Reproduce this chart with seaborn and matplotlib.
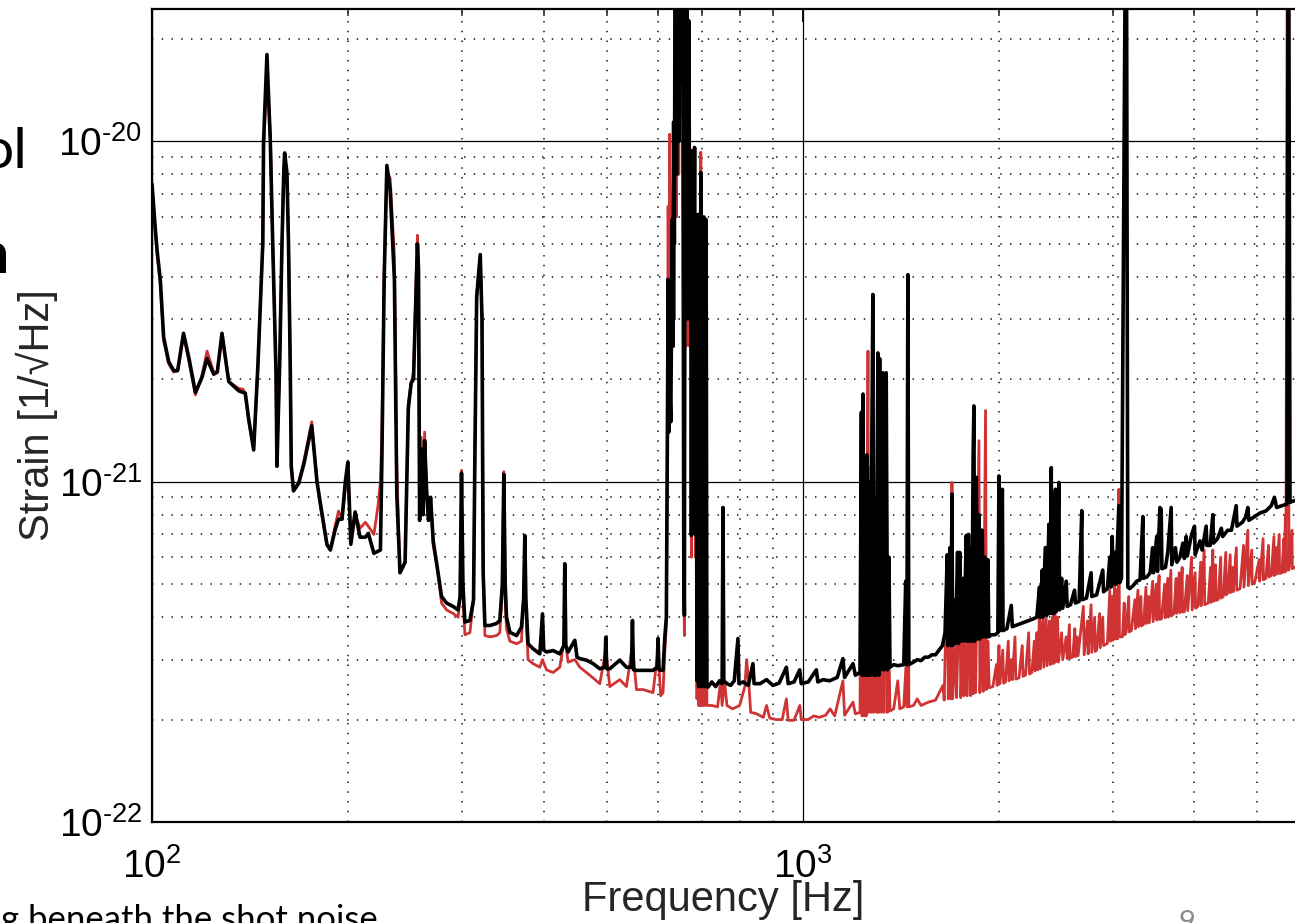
import matplotlib
matplotlib.use('Agg')
import matplotlib.pyplot as plt
import seaborn as sns
from matplotlib.ticker import LogLocator, NullFormatter, FixedFormatter

# strain spectrum (Hz, 1/sqrt(Hz))
freq_black = [
    100, 101.2, 101.8, 103, 104.2, 106.1, 108, 109.5, 111.8, 114, 116.6, 119.3, 121.5, 124.4, 126,
    128.1, 131.2, 135.9, 138, 139.1, 140.8, 143.3, 145.5, 146.7, 148, 148.4, 150.2, 152, 153.3,
    155.1, 155.6, 157.1, 158.4, 159.4, 159.9, 161.2, 162.1, 163.1, 163.7, 165, 168.1, 171.2, 176,
    179.3, 181.6, 185.7, 188, 191.1, 193.5, 195.9, 198.2, 200, 202.1, 205.2, 208.8, 212.8, 215,
    219.3, 224.4, 225.6, 226.4, 227.4, 229.6, 232.3, 235.8, 237.8, 240.5, 244.9, 247.7, 250.2,
    252.3, 255.8, 256.8, 257.8, 259.3, 261, 262.4, 264.2, 266, 268, 270.5, 274.4, 278.6, 283.6,
    290.3, 295.4, 297.5, 299, 300.5, 302.6, 308, 312, 313.5, 315.5, 319.5, 321.5, 322.8, 324.8,
    330.6, 338.4, 342.4, 345.5, 347.3, 349, 350.6, 354.8, 363.3, 369.7, 372.5, 374.1, 375.5, 378.4,
    385.2, 394.5, 398.2, 400, 403.9, 413.5, 423.4, 429.5, 430.9, 432.5, 436, 446.5, 450, 454.5,
    465.3, 476.4, 487.8, 496.5, 498.2, 500, 505.3, 523.5, 536, 545.5, 547.5, 549.5, 555.3, 568.5,
    588.8, 597.5, 599.4, 601.5, 610.1, 614, 617.3,
    619.5, 621.2, 623, 624.7, 627, 630.6, 632, 633.4, 635, 637, 640, 642, 645, 648, 651, 654,
    656.5, 658, 660, 662, 664, 666, 668.7, 670.5, 672.6, 674.5, 676.7, 679, 682.1, 684, 686, 688,
    690.2, 692, 694, 695.5, 697.3, 699, 701, 703, 705, 707, 709.8, 711, 712.5, 715.2,
    725, 735, 745, 752, 754.3, 756.5, 765, 775, 785, 795.3, 798, 810, 825, 838.6, 842, 860, 880,
    900, 920, 944, 950, 970, 989.5, 995, 1020, 1049.5, 1055, 1075, 1100, 1130, 1153, 1160, 1195,
    1205, 1225, 1231, 1234, 1238, 1242, 1246, 1250, 1255, 1260, 1266, 1270, 1282, 1286, 1290,
    1296, 1305, 1309, 1313, 1318, 1324, 1328, 1333, 1338, 1344, 1350, 1357, 1362, 1380, 1400,
    1430, 1440, 1446, 1451, 1456, 1480, 1500, 1520, 1540, 1560, 1580, 1600, 1620,
    1640, 1655, 1668, 1672, 1684, 1690, 1696, 1700, 1712, 1718, 1730, 1736, 1743, 1750, 1764,
    1770, 1784, 1790, 1798, 1805, 1814, 1820, 1828, 1833, 1838, 1844, 1849, 1855, 1866, 1872,
    1880, 1888, 1895, 1905, 1912, 1926, 1932, 1950, 1975, 1995, 2003, 2010, 2027, 2032, 2060,
    2092, 2100, 2140, 2180, 2220, 2260, 2290, 2312, 2318, 2335, 2340, 2360, 2367, 2373, 2390,
    2400, 2410, 2416, 2425, 2432, 2446, 2452, 2476, 2482, 2500, 2510, 2541, 2550, 2580, 2617,
    2625, 2660, 2685, 2690, 2730, 2775, 2782, 2830, 2892, 2900, 2940, 2965, 2975, 2990, 3000,
    3015, 3030, 3061, 3070, 3090, 3142, 3160, 3180, 3220, 3260, 3300, 3333, 3340, 3380, 3420,
    3450, 3460, 3500, 3510, 3540, 3556, 3565, 3610, 3640, 3684, 3692, 3740, 3760, 3800, 3840,
    3860, 3885, 3900, 3960, 4001, 4010, 4080, 4110, 4170, 4180, 4230, 4269, 4280, 4340, 4400,
    4420, 4500, 4560, 4637, 4650, 4740, 4800, 4832, 4850, 4950, 5050, 5150, 5250, 5309, 5350,
    5450, 5550, 5579, 5610, 5700, 6000,
]
strain_black = [
    7.5e-21, 5.5e-21, 4.8e-21, 3.9e-21, 2.66e-21, 2.25e-21, 2.12e-21, 2.12e-21, 2.73e-21, 2.3e-21,
    1.83e-21, 2.02e-21, 2.3e-21, 2.07e-21, 2.1e-21, 2.73e-21, 1.97e-21, 1.85e-21, 1.83e-21,
    1.82e-21, 1.53e-21, 1.24e-21, 2.22e-21, 3.31e-21, 5.0e-21, 1.0e-20, 1.8e-20, 1.0e-20, 5.0e-21,
    2.09e-21, 1.11e-21, 2.2e-21, 5.0e-21, 8.1e-21, 9.25e-21, 8.1e-21, 5.0e-21, 2.2e-21, 1.11e-21,
    9.4e-22, 9.9e-22, 1.13e-21, 1.46e-21, 1.0e-21, 8.55e-22, 6.55e-22, 6.3e-22, 7.2e-22, 7.76e-22,
    7.76e-22, 1.0e-21, 1.14e-21, 6.55e-22, 8.15e-22, 6.87e-22, 6.87e-22, 7.05e-22, 6.16e-22,
    6.3e-22, 1.17e-21, 2.0e-21, 3.92e-21, 8.5e-21, 7.18e-21, 3.92e-21, 9.2e-22, 5.4e-22, 5.8e-22,
    1.64e-21, 1.95e-21, 2.0e-21, 5.0e-21, 4.2e-21, 7.7e-22, 1.25e-21, 8.0e-22, 1.32e-21, 9.5e-22,
    7.7e-22, 9.0e-22, 6.7e-22, 5.6e-22, 4.6e-22, 4.4e-22, 4.3e-22, 4.2e-22, 4.6e-22, 1.06e-21,
    5.0e-22, 3.87e-22, 3.91e-22, 4.5e-22, 1.2e-21, 3.5e-21, 4.65e-21, 3.0e-21, 5.4e-22, 3.78e-22,
    3.78e-22, 3.83e-22, 3.91e-22, 5.0e-22, 1.05e-21, 5.0e-22, 4.0e-22, 3.61e-22, 3.53e-22,
    3.74e-22, 4.5e-22, 6.95e-22, 4.5e-22, 3.34e-22, 3.23e-22, 3.12e-22, 4.09e-22, 3.2e-22,
    3.16e-22, 3.19e-22, 3.12e-22, 3.3e-22, 5.74e-22, 3.3e-22, 3.16e-22, 3.42e-22, 3.05e-22,
    3.02e-22, 2.99e-22, 2.92e-22, 2.82e-22, 2.85e-22, 3.49e-22, 2.82e-22, 2.82e-22, 2.99e-22,
    2.85e-22, 2.85e-22, 3.91e-22, 2.8e-22, 2.79e-22, 2.79e-22, 2.79e-22, 2.85e-22, 3.46e-22,
    2.8e-22, 2.79e-22, 3.5e-22, 4.0e-22,
    1.3e-21, 3.93e-21, 1.4e-21, 2.0e-21, 1.5e-21, 5.9e-21, 2.5e-21, 1.14e-20, 5.0e-21, 5.0e-20,
    8.0e-21, 5.0e-20, 1.0e-20, 5.0e-20, 1.5e-20, 5.0e-20, 6.0e-22, 4.05e-22, 5.0e-20, 3.0e-21,
    5.0e-20, 4.0e-21, 2.26e-20, 3.0e-21, 9.4e-21, 6.95e-22, 9.0e-21, 1.5e-21, 9.6e-21, 7.0e-22,
    3.0e-21, 2.6e-22, 6.1e-21, 2.5e-22, 4.0e-21, 2.6e-22, 8.1e-21, 2.5e-22, 5.0e-21, 2.6e-22,
    6.0e-21, 2.5e-22, 5.9e-21, 3.0e-21, 2.5e-22, 2.49e-22,
    2.58e-22, 2.5e-22, 2.6e-22, 2.55e-22, 8.4e-22, 2.6e-22, 2.55e-22, 2.52e-22, 2.6e-22, 3.46e-22,
    2.55e-22, 2.58e-22, 2.52e-22, 2.92e-22, 2.55e-22, 2.55e-22, 2.62e-22, 2.52e-22, 2.56e-22,
    2.85e-22, 2.55e-22, 2.58e-22, 2.8e-22, 2.55e-22, 2.58e-22, 2.8e-22, 2.58e-22, 2.62e-22,
    2.6e-22, 2.66e-22, 3.02e-22, 2.66e-22, 2.92e-22, 2.7e-22, 2.75e-22, 1.6e-21, 2.7e-22, 1.81e-21,
    2.7e-22, 1.0e-21, 2.7e-22, 1.2e-21, 2.7e-22, 1.0e-21, 2.7e-22, 3.55e-21, 2.7e-22, 8.9e-22,
    2.7e-22, 2.39e-21, 2.7e-22, 2.3e-21, 2.8e-22, 1.2e-21, 2.09e-21, 2.8e-22, 2.0e-21, 2.09e-21,
    2.8e-22, 6.0e-22, 2.85e-22, 2.9e-22, 2.88e-22, 2.9e-22, 5.1e-22, 2.9e-22, 4.06e-21, 2.9e-22,
    2.95e-22, 3.0e-22, 2.98e-22, 3.05e-22, 3.05e-22, 3.1e-22, 3.1e-22, 3.2e-22,
    3.3e-22, 3.6e-22, 6.1e-22, 3.3e-22, 6.4e-22, 3.3e-22, 9.2e-22, 3.3e-22, 4.5e-22, 3.35e-22,
    6.2e-22, 3.35e-22, 6.2e-22, 3.4e-22, 5.2e-22, 3.4e-22, 6.95e-22, 3.4e-22, 7.0e-22, 3.4e-22,
    6.4e-22, 3.4e-22, 1.2e-21, 1.67e-21, 3.4e-22, 1.0e-21, 1.03e-21, 3.45e-22, 8.0e-22, 3.45e-22,
    7.2e-22, 7.2e-22, 3.5e-22, 6.0e-22, 3.5e-22, 5.9e-22, 3.5e-22, 3.55e-22, 3.55e-22, 3.6e-22,
    1.04e-21, 3.65e-22, 9.5e-22, 3.65e-22, 3.7e-22, 4.33e-22, 3.75e-22, 3.8e-22, 3.85e-22, 3.9e-22,
    3.95e-22, 4.0e-22, 4.9e-22, 4.0e-22, 5.5e-22, 4.0e-22, 6.4e-22, 6.4e-22, 4.05e-22, 7.5e-22,
    4.1e-22, 1.1e-21, 4.1e-22, 8.0e-22, 4.1e-22, 9.5e-22, 4.15e-22, 9.95e-22, 4.2e-22, 5.2e-22,
    4.25e-22, 5.1e-22, 4.3e-22, 4.35e-22, 4.8e-22, 4.4e-22, 4.45e-22, 8.22e-22, 4.5e-22, 4.55e-22,
    5.4e-22, 4.6e-22, 4.65e-22, 5.5e-22, 4.75e-22, 4.85e-22, 6.0e-22, 4.9e-22, 6.9e-22, 5.0e-22,
    6.2e-22, 5.0e-22, 8.5e-22, 5.05e-22, 5.2e-22, 1.0e-19, 4.9e-22, 4.85e-22, 4.95e-22, 5.1e-22,
    5.15e-22, 7.9e-22, 5.2e-22, 5.25e-22, 5.4e-22, 6.4e-22, 5.4e-22, 6.9e-22, 5.45e-22, 8.4e-22,
    8.3e-22, 5.55e-22, 5.6e-22, 6.2e-22, 8.4e-22, 5.7e-22, 6.4e-22, 5.8e-22, 6.0e-22, 6.6e-22,
    5.95e-22, 6.9e-22, 6.05e-22, 7.0e-22, 7.4e-22, 6.1e-22, 6.7e-22, 6.3e-22, 7.4e-22, 6.5e-22,
    6.5e-22, 8.0e-22, 6.6e-22, 6.8e-22, 7.3e-22, 6.9e-22, 7.2e-22, 7.2e-22, 8.5e-22, 7.4e-22,
    7.6e-22, 7.9e-22, 8.4e-22, 7.7e-22, 7.9e-22, 8.1e-22, 8.2e-22, 8.5e-22, 9.0e-22, 8.4e-22,
    8.5e-22, 8.6e-22, 1.0e-19, 8.7e-22, 8.8e-22, 9.0e-22,
]

freq_red_low = [
    100, 101.2, 101.8, 103, 104.2, 106.1, 108, 109.5, 111.8, 114, 116.6, 119.3, 121.5, 124.4, 126,
    128.1, 131.2, 135.9, 138, 139.1, 140.8, 143.3, 145.5, 146.7, 148, 148.4, 150.2, 152, 153.3,
    155.1, 155.6, 157.1, 158.4, 159.4, 159.9, 161.2, 162.1, 163.1, 163.7, 165, 168.1, 171.2, 176,
    179.3, 181.6, 185.7, 188, 191.1, 193.5, 195.9, 198.2, 200, 202.1, 205.2, 208.8, 212.8, 215,
    219.3, 222.5, 224.4, 225.6, 226.4, 227.4, 229.6, 232.3, 235.8, 237.8, 240.5, 244.9, 247.7,
    250.2, 252.3, 255.8, 256.8, 257.8, 259.3, 261, 262.4, 264.2, 266, 268, 270.5, 274.4, 278.6,
    283.6, 290.3, 295.4, 297.5, 299, 300.5, 302.6, 308, 312, 313.5, 315.5, 319.5, 321.5, 322.8,
    324.8, 330.6, 338.4, 342.4, 345.5, 347.3, 349, 350.6, 354.8, 363.3, 369.7, 372.5, 374.1, 375.5,
    378.4, 385.2, 394.5, 398.2, 403.9, 413.5, 423.4, 430.9, 436, 446.5, 454.5, 465.3, 476.4,
    487.8, 498.2, 505.3, 523.5, 536, 547.5, 555.3, 568.5, 588.8, 599.4, 605, 610.1, 614, 617.3,
    619.5, 621.2, 623, 624.7, 627, 630.6, 633.4, 635, 637, 640, 642, 645, 648, 651, 654, 656.5,
    658, 660, 662, 664, 666, 668.7, 670.5, 672.6, 674.5, 676.7, 679, 682.1, 684, 686, 688, 690.2,
    692, 694, 695.5, 697.3, 699, 701, 703, 705, 707, 709.8, 712.5, 715.2,
    725, 740, 748, 752, 758, 765, 780, 800, 815, 820, 826, 832, 850, 870, 880, 890, 910, 930, 944,
    950, 970, 990, 995, 1020, 1040, 1060, 1085, 1102, 1120, 1153, 1160, 1195, 1205, 1225, 1231,
    1234, 1238, 1242, 1248, 1252, 1260, 1264, 1270, 1275, 1282, 1286, 1296, 1300, 1305, 1309,
    1318, 1322, 1330, 1335, 1344, 1350, 1357, 1362, 1380, 1400, 1410, 1430, 1441, 1447, 1451,
    1456, 1480, 1500, 1520, 1560, 1600, 1643, 1650, 1668, 1674, 1684, 1690, 1696, 1700, 1718,
    1724, 1743, 1750, 1764, 1770, 1784, 1790, 1805, 1812, 1822, 1828, 1838, 1844, 1866, 1872,
    1888, 1895, 1910, 1916, 1926,
]
strain_red_low = [
    7.3e-21, 5.4e-21, 4.7e-21, 3.8e-21, 2.6e-21, 2.22e-21, 2.1e-21, 2.12e-21, 2.7e-21, 2.25e-21,
    1.8e-21, 2.05e-21, 2.42e-21, 2.1e-21, 2.1e-21, 2.7e-21, 1.97e-21, 1.88e-21, 1.87e-21,
    1.82e-21, 1.5e-21, 1.25e-21, 2.2e-21, 3.3e-21, 5.0e-21, 9.5e-21, 1.55e-20, 1.05e-20, 5.0e-21,
    2.0e-21, 1.15e-21, 2.2e-21, 5.0e-21, 8.0e-21, 9.0e-21, 8.0e-21, 5.0e-21, 2.2e-21, 1.1e-21,
    9.4e-22, 1.0e-21, 1.15e-21, 1.5e-21, 1.0e-21, 8.4e-22, 6.5e-22, 6.3e-22, 7.4e-22, 8.2e-22,
    7.8e-22, 9.5e-22, 1.05e-21, 7.0e-22, 8.0e-22, 7.3e-22, 7.6e-22, 7.4e-22, 7.0e-22, 8.5e-22,
    1.0e-21, 1.4e-21, 2.2e-21, 4.2e-21, 8.2e-21, 7.8e-21, 4.6e-21, 1.1e-21, 5.4e-22, 5.8e-22,
    1.7e-21, 1.95e-21, 2.1e-21, 5.3e-21, 4.5e-21, 7.7e-22, 1.35e-21, 8.0e-22, 1.4e-21, 9.5e-22,
    7.7e-22, 9.0e-22, 6.5e-22, 5.6e-22, 4.4e-22, 4.2e-22, 4.1e-22, 4.0e-22, 4.6e-22, 1.08e-21,
    4.6e-22, 3.55e-22, 3.6e-22, 4.5e-22, 1.2e-21, 3.5e-21, 4.65e-21, 3.0e-21, 5.8e-22, 3.53e-22,
    3.5e-22, 3.53e-22, 3.6e-22, 4.8e-22, 1.07e-21, 4.5e-22, 3.7e-22, 3.4e-22, 3.34e-22, 3.4e-22,
    4.7e-22, 6.5e-22, 4.2e-22, 3.0e-22, 2.92e-22, 2.85e-22, 3.0e-22, 2.8e-22, 2.75e-22, 2.85e-22,
    3.5e-22, 2.95e-22, 3.0e-22, 2.85e-22, 2.75e-22, 2.65e-22, 2.55e-22, 3.2e-22, 2.5e-22,
    2.62e-22, 2.5e-22, 3.3e-22, 2.45e-22, 2.45e-22, 2.4e-22, 3.2e-22, 2.35e-22, 2.4e-22, 3.2e-22,
    3.8e-22,
    1.6e-21, 6.45e-21, 2.0e-21, 1.05e-20, 3.0e-21, 5.0e-21, 9.0e-21, 3.0e-21, 5.0e-20, 6.0e-21,
    5.0e-20, 8.0e-21, 5.0e-20, 1.2e-20, 5.0e-20, 5.0e-22, 3.53e-22, 5.0e-20, 2.5e-21, 5.0e-20,
    3.5e-21, 1.8e-20, 2.5e-21, 8.0e-21, 6.0e-22, 9.4e-21, 1.2e-21, 9.3e-21, 6.0e-22, 2.5e-21,
    2.3e-22, 5.0e-21, 2.2e-22, 3.5e-21, 2.2e-22, 9.3e-21, 2.2e-22, 4.0e-21, 2.2e-22, 5.0e-21,
    2.2e-22, 4.5e-21, 2.2e-22, 2.2e-22,
    2.2e-22, 2.18e-22, 2.6e-22, 2.2e-22, 2.6e-22, 2.2e-22, 2.15e-22, 2.2e-22, 2.5e-22, 3.0e-22,
    2.6e-22, 2.1e-22, 2.08e-22, 2.03e-22, 2.2e-22, 2.02e-22, 2.0e-22, 2.0e-22, 2.3e-22, 1.99e-22,
    1.99e-22, 2.2e-22, 2.0e-22, 2.0e-22, 2.05e-22, 2.03e-22, 2.06e-22, 2.15e-22, 2.05e-22,
    2.6e-22, 2.06e-22, 2.25e-22, 2.08e-22, 2.1e-22, 1.4e-21, 2.05e-22, 1.6e-21, 2.05e-22,
    1.1e-21, 2.05e-22, 2.42e-21, 2.1e-22, 1.1e-21, 2.1e-22, 3.3e-21, 2.1e-22, 8.5e-22, 2.1e-22,
    2.3e-21, 2.1e-22, 2.0e-21, 2.1e-22, 2.05e-21, 2.1e-22, 2.0e-21, 2.1e-22, 3.2e-22, 2.12e-22,
    2.15e-22, 2.6e-22, 2.15e-22, 2.18e-22, 2.85e-22, 2.18e-22, 3.9e-21, 2.18e-22, 2.2e-22, 2.3e-22,
    2.2e-22, 2.25e-22, 2.28e-22, 2.52e-22, 2.28e-22, 6.1e-22, 2.3e-22, 3.3e-22, 2.3e-22, 9.95e-22,
    2.3e-22, 3.3e-22, 2.32e-22, 5.5e-22, 2.32e-22, 3.4e-22, 2.35e-22, 6.5e-22, 2.35e-22, 5.5e-22,
    2.35e-22, 7.0e-22, 2.38e-22, 3.6e-22, 2.4e-22, 1.32e-21, 2.4e-22, 4.0e-22, 2.42e-22, 1.62e-21,
    2.45e-22, 3.4e-22,
]

# squeezed trace above ~1.9 kHz: floor plus the comb of narrow lines
freq_red_high = [
    1935, 1960, 1985, 1990, 2003, 2010, 2030, 2036, 2050, 2070,
    2076, 2092, 2100, 2120, 2126, 2150, 2175, 2181, 2200, 2225,
    2231, 2250, 2270, 2276, 2290, 2298, 2312, 2320, 2340, 2348,
    2367, 2375, 2395, 2402, 2420, 2428, 2438, 2446, 2465, 2472,
    2500, 2510, 2541, 2550, 2570, 2576, 2600, 2620, 2626, 2640,
    2650, 2700, 2708, 2740, 2746, 2775, 2782, 2810, 2816, 2830,
    2860, 2866, 2892, 2900, 2940, 2965, 2972, 2990, 2998, 3015,
    3022, 3040, 3048, 3061, 3068, 3100, 3120, 3126, 3140, 3170,
    3176, 3200, 3240, 3246, 3275, 3282, 3310, 3316, 3340, 3370,
    3376, 3400, 3410, 3450, 3456, 3494, 3502, 3530, 3536, 3560,
    3600, 3606, 3640, 3648, 3680, 3686, 3720, 3750, 3756, 3790,
    3798, 3830, 3836, 3860, 3900, 3906, 3960, 3968, 4010, 4016,
    4050, 4090, 4096, 4140, 4148, 4200, 4235, 4241, 4269, 4277,
    4310, 4316, 4350, 4390, 4396, 4430, 4470, 4476, 4500, 4540,
    4546, 4580, 4588, 4640, 4646, 4700, 4760, 4766, 4832, 4840,
    4900, 4906, 4950, 5030, 5040, 5100, 5106, 5150, 5200, 5206,
    5250, 5300, 5306, 5340, 5350, 5400, 5406, 5450, 5490, 5496,
    5520, 5530, 5560, 5590, 5650, 5656, 5700, 6000,
]
strain_red_high = [
    2.48e-22, 2.5e-22, 2.9e-22, 2.52e-22, 3.3e-22, 2.55e-22, 3.2e-22, 2.56e-22, 2.58e-22, 3.4e-22,
    2.6e-22, 3.0e-22, 2.62e-22, 3.5e-22, 2.63e-22, 2.65e-22, 3.3e-22, 2.68e-22, 2.7e-22, 3.6e-22,
    2.72e-22, 2.75e-22, 3.4e-22, 2.78e-22, 3.6e-22, 2.8e-22, 4.2e-22, 2.82e-22, 4.0e-22, 2.85e-22,
    4.0e-22, 2.88e-22, 3.9e-22, 2.9e-22, 4.0e-22, 2.92e-22, 8.3e-22, 2.95e-22, 4.0e-22, 2.95e-22,
    3.6e-22, 3.0e-22, 3.5e-22, 3.02e-22, 3.8e-22, 3.03e-22, 3.05e-22, 3.7e-22, 3.06e-22, 3.5e-22,
    3.08e-22, 4.3e-22, 3.1e-22, 3.9e-22, 3.12e-22, 4.35e-22, 3.15e-22, 4.0e-22, 3.17e-22, 3.2e-22,
    4.1e-22, 3.25e-22, 4.0e-22, 3.3e-22, 3.35e-22, 4.8e-22, 3.4e-22, 4.6e-22, 3.42e-22, 5.0e-22,
    3.45e-22, 4.8e-22, 3.45e-22, 9.5e-22, 3.5e-22, 3.5e-22, 4.4e-22, 3.55e-22, 3.6e-22, 4.6e-22,
    3.62e-22, 3.65e-22, 4.5e-22, 3.7e-22, 4.8e-22, 3.75e-22, 4.6e-22, 3.77e-22, 3.8e-22, 4.9e-22,
    3.83e-22, 4.6e-22, 3.85e-22, 5.1e-22, 3.88e-22, 5.0e-22, 3.92e-22, 5.3e-22, 3.94e-22, 3.95e-22,
    5.0e-22, 3.98e-22, 5.2e-22, 4.0e-22, 5.5e-22, 4.03e-22, 4.1e-22, 5.2e-22, 4.1e-22, 5.4e-22,
    4.12e-22, 5.6e-22, 4.14e-22, 4.15e-22, 5.3e-22, 4.18e-22, 6.0e-22, 4.2e-22, 5.4e-22, 4.25e-22,
    4.3e-22, 5.8e-22, 4.32e-22, 6.3e-22, 4.35e-22, 4.4e-22, 5.6e-22, 4.42e-22, 6.3e-22, 4.45e-22,
    5.7e-22, 4.48e-22, 4.5e-22, 6.0e-22, 4.55e-22, 4.6e-22, 6.2e-22, 4.65e-22, 4.7e-22, 6.1e-22,
    4.72e-22, 5.6e-22, 4.75e-22, 6.4e-22, 4.8e-22, 4.85e-22, 6.5e-22, 4.9e-22, 7.2e-22, 4.95e-22,
    6.3e-22, 5.0e-22, 5.05e-22, 5.9e-22, 5.1e-22, 6.8e-22, 5.15e-22, 5.2e-22, 6.5e-22, 5.25e-22,
    5.3e-22, 6.9e-22, 5.3e-22, 6.4e-22, 5.35e-22, 7.0e-22, 5.37e-22, 5.4e-22, 6.8e-22, 5.42e-22,
    8.0e-22, 5.45e-22, 1.0e-19, 5.5e-22, 7.2e-22, 5.55e-22, 5.6e-22, 5.8e-22,
]

freq_red = freq_red_low + freq_red_high
strain_red = strain_red_low + strain_red_high

x_ticks = [1e2, 1e3]
x_tick_labels = [r'$10^{2}$', r'$10^{3}$']
y_ticks = [1e-22, 1e-21, 1e-20]
y_tick_labels = [r'$10^{\text{-}22}$', r'$10^{\text{-}21}$', r'$10^{\text{-}20}$']

sns.set_style('white')
plt.rcParams['font.family'] = ['Liberation Sans', 'DejaVu Sans']
plt.rcParams['mathtext.fontset'] = 'custom'
plt.rcParams['mathtext.rm'] = 'Liberation Sans'
plt.rcParams['mathtext.it'] = 'Liberation Sans:italic'
plt.rcParams['mathtext.bf'] = 'Liberation Sans:bold'
plt.rcParams['mathtext.sf'] = 'Liberation Sans'
plt.rcParams['mathtext.default'] = 'regular'
plt.rcParams['axes.unicode_minus'] = False

W, H = 1295, 923
fig = plt.figure(figsize=(W / 100, H / 100), dpi=100)
ax = fig.add_axes([152 / W, 101 / H, 1157 / W, 813 / H])
ax.set_xscale('log')
ax.set_yscale('log')

sns.lineplot(x=freq_red, y=strain_red, ax=ax, color='#cf3333', lw=2.0,
             estimator=None, sort=False)
sns.lineplot(x=freq_black, y=strain_black, ax=ax, color='black', lw=2.6,
             estimator=None, sort=False)

ax.set_xlim(100, 6000)
ax.set_ylim(1e-22, 2.45e-20)
ax.set_xticks(x_ticks)
ax.xaxis.set_major_formatter(FixedFormatter(x_tick_labels))
ax.set_yticks(y_ticks)
ax.yaxis.set_major_formatter(FixedFormatter(y_tick_labels))
ax.xaxis.set_minor_locator(LogLocator(base=10, subs=range(2, 10)))
ax.yaxis.set_minor_locator(LogLocator(base=10, subs=range(2, 10)))
ax.xaxis.set_minor_formatter(NullFormatter())
ax.yaxis.set_minor_formatter(NullFormatter())

ax.set_axisbelow(True)
ax.grid(which='major', color='black', lw=0.9, ls='-')
ax.grid(which='minor', color='#333333', lw=1.3, ls=(0, (0.8, 4.6)))

ax.tick_params(which='major', direction='in', length=9, width=1.3, top=True, right=True,
               labelsize=28, colors='black')
ax.tick_params(which='minor', direction='in', length=5, width=1.1, top=True, right=True)
ax.tick_params(axis='y', which='major', pad=7)
ax.tick_params(axis='x', which='major', pad=19)
for s in ax.spines.values():
    s.set_color('black')
    s.set_linewidth(1.6)

ax.set_xlabel('Frequency [Hz]', fontsize=30)
ax.set_ylabel('Strain [1/\u221aHz]', fontsize=30)
ax.xaxis.set_label_coords(0.4935, -0.071)
ax.yaxis.set_label_coords(-0.081, 0.5)

# fragments of the surrounding slide
fig.text(27 / W, 1 - 168 / H, 'ol', ha='right', va='baseline', fontsize=41,
         family='Lato', color='black')
fig.text(9 / W, 1 - 273 / H, 'n', ha='right', va='baseline', fontsize=41,
         family='Lato', fontweight='bold', color='black')
fig.text(1 / W, 1 - 930 / H, 'g beneath the shot noise', ha='left', va='baseline',
         fontsize=25, family='Lato', color='black')
fig.text(1178 / W, 1 - 931 / H, '9', ha='left', va='baseline', fontsize=21,
         family='Lato', color='#8a8a8a')

fig.savefig('out.png', dpi=100)
